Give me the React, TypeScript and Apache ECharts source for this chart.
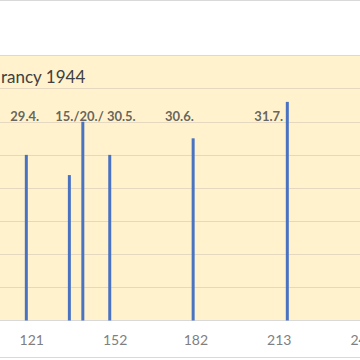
import React, { useEffect, useRef } from "react";
import * as echarts from "echarts";

// Deportation convoys (visible part of the chart)
const TITLE = "rancy 1944";
const convoyDays = [119, 135, 140, 150, 181, 216];
const convoyPeople = [1000, 878, 1200, 1000, 1100, 1320];
const tickDays = [121, 152, 182, 213, 244];
const dateLabels = ["29.4.", "15./20./ 30.5.", "30.6.", "31.7."];
const dateLabelDays = [118.4, 144.7, 175.9, 209.1];
const dateLabelLevel = 1232;

const OFFSET = 40; // chart div starts 40px left of the page
const CHART_W = 440;
const FONT = "Lato, 'Noto Sans', sans-serif";

export default function App() {
  const ref = useRef<HTMLDivElement>(null);

  useEffect(() => {
    if (!ref.current) return;
    const chart = echarts.init(ref.current, undefined, { renderer: "svg" });
    chart.setOption({
      animation: false,
      grid: {
        left: 15.2,
        right: 21.2,
        top: 55.5,
        bottom: 39.5,
        show: true,
        backgroundColor: "#FFF2CC",
        borderWidth: 0,
      },
      xAxis: {
        type: "value",
        min: 100,
        max: 250,
        axisLine: { show: true, lineStyle: { color: "#d9d9d9", width: 1 } },
        axisTick: { show: false },
        splitLine: { show: false },
        axisLabel: {
          customValues: tickDays,
          color: "#7f7f7f",
          fontSize: 14,
          fontFamily: FONT,
          margin: 12,
        },
      },
      yAxis: {
        type: "value",
        min: 0,
        max: 1600,
        interval: 200,
        axisLabel: { show: false },
        axisLine: { show: false },
        axisTick: { show: false },
        splitLine: { show: true, lineStyle: { color: "#E4D9C0", width: 1 } },
      },
      series: [
        {
          type: "bar",
          data: convoyDays.map((d, i) => [d, convoyPeople[i]]),
          barWidth: 3,
          itemStyle: { color: "#4A72C2" },
          silent: true,
        },
        {
          type: "scatter",
          symbolSize: 0,
          silent: true,
          data: dateLabels.map((t, i) => ({
            name: t,
            value: [dateLabelDays[i], dateLabelLevel],
          })),
          label: {
            show: true,
            position: "inside",
            formatter: "{b}",
            color: "#404040",
            fontSize: 13,
            fontWeight: "bold",
            fontFamily: FONT,
          },
        },
      ],
      graphic: [
        {
          type: "text",
          x: OFFSET + 1,
          y: 76,
          style: {
            text: TITLE,
            fontSize: 17,
            fontFamily: FONT,
            fill: "#404040",
            verticalAlign: "middle",
          },
        },
        {
          type: "line",
          shape: { x1: 0, y1: 0.5, x2: CHART_W, y2: 0.5 },
          style: { stroke: "#d9d9d9", lineWidth: 1 },
        },
        {
          type: "line",
          shape: { x1: 0, y1: 357.5, x2: CHART_W, y2: 357.5 },
          style: { stroke: "#d9d9d9", lineWidth: 1 },
        },
      ],
    });
    return () => chart.dispose();
  }, []);

  return (
    <div
      style={{
        position: "fixed",
        left: 0,
        top: 0,
        width: 360,
        height: 360,
        overflow: "hidden",
        background: "#ffffff",
      }}
    >
      <div
        ref={ref}
        style={{
          position: "absolute",
          left: -OFFSET,
          top: 0,
          width: CHART_W,
          height: 360,
        }}
      />
    </div>
  );
}
